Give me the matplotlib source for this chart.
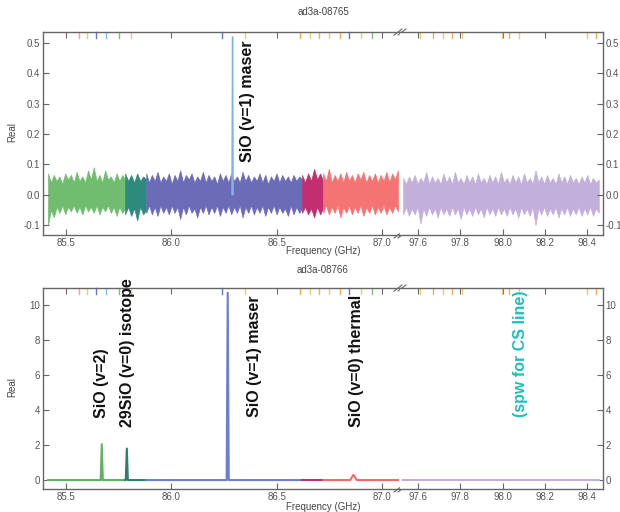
import numpy as np
import matplotlib
matplotlib.use("Agg")
import matplotlib.pyplot as plt

plt.rcParams["font.family"] = ["Liberation Sans", "DejaVu Sans"]

# ---- spectral windows (GHz) and colours ----------------------------------
seg_lo = [85.414, 85.78, 85.88, 86.62, 86.72, 97.53]
seg_hi = [85.78, 85.88, 86.62, 86.72, 87.075, 98.455]
seg_colors = ["#70bd70", "#2f8a7e", "#6b6bb8", "#c0306e", "#f47474", "#c3afdb"]

# ---- top panel (ad3a-08765): noise envelope read per window --------------
upper_green = [0.07, 0.04, 0.065, 0.045, 0.06, 0.035, 0.07, 0.05, 0.065, 0.04,
               0.075, 0.045, 0.06, 0.04, 0.08, 0.05, 0.09, 0.045, 0.065, 0.04,
               0.08, 0.05, 0.06, 0.04, 0.07, 0.045, 0.065, 0.05]
lower_green = [-0.10, -0.05, -0.075, -0.04, -0.06, -0.035, -0.065, -0.04, -0.055, -0.035,
               -0.06, -0.04, -0.065, -0.035, -0.055, -0.04, -0.06, -0.035, -0.065, -0.04,
               -0.055, -0.035, -0.06, -0.04, -0.07, -0.04, -0.06, -0.045]
upper_teal = [0.07, 0.045, 0.065, 0.04, 0.07, 0.045, 0.06, 0.05]
lower_teal = [-0.065, -0.04, -0.07, -0.045, -0.085, -0.04, -0.065, -0.05]
upper_blue = [0.07, 0.04, 0.065, 0.045, 0.075, 0.04, 0.06, 0.045, 0.07, 0.035,
              0.065, 0.045, 0.08, 0.04, 0.065, 0.05, 0.07, 0.04, 0.06, 0.045,
              0.075, 0.04, 0.065, 0.045, 0.06, 0.035, 0.07, 0.045, 0.065, 0.04,
              0.07, 0.045, 0.06, 0.04, 0.075, 0.045, 0.065, 0.04, 0.06, 0.045,
              0.07, 0.04, 0.065, 0.035, 0.06, 0.045, 0.07, 0.04, 0.065, 0.045,
              0.06, 0.04, 0.065, 0.045, 0.06, 0.05]
lower_blue = [-0.06, -0.035, -0.065, -0.04, -0.07, -0.035, -0.06, -0.04, -0.065, -0.035,
              -0.06, -0.04, -0.08, -0.04, -0.065, -0.035, -0.06, -0.045, -0.075, -0.04,
              -0.06, -0.035, -0.065, -0.04, -0.06, -0.035, -0.07, -0.04, -0.06, -0.035,
              -0.065, -0.04, -0.06, -0.035, -0.075, -0.04, -0.06, -0.035, -0.065, -0.04,
              -0.06, -0.035, -0.07, -0.04, -0.06, -0.035, -0.065, -0.04, -0.06, -0.045,
              -0.07, -0.035, -0.065, -0.04, -0.06, -0.045]
upper_crimson = [0.065, 0.04, 0.07, 0.045, 0.085, 0.05, 0.07, 0.045]
lower_crimson = [-0.06, -0.04, -0.065, -0.045, -0.075, -0.04, -0.065, -0.045]
upper_salmon = [0.07, 0.045, 0.085, 0.04, 0.065, 0.045, 0.07, 0.04, 0.075, 0.045,
                0.065, 0.04, 0.07, 0.05, 0.075, 0.04, 0.065, 0.045, 0.07, 0.04,
                0.065, 0.045, 0.075, 0.04, 0.07, 0.05, 0.08]
lower_salmon = [-0.06, -0.035, -0.065, -0.04, -0.06, -0.035, -0.075, -0.04, -0.06, -0.035,
                -0.065, -0.04, -0.06, -0.035, -0.07, -0.04, -0.06, -0.035, -0.065, -0.04,
                -0.06, -0.035, -0.065, -0.04, -0.06, -0.035, -0.055]
upper_lav = [0.055, 0.035, 0.06, 0.04, 0.065, 0.035, 0.055, 0.04, 0.075, 0.035,
             0.06, 0.04, 0.055, 0.035, 0.07, 0.04, 0.06, 0.035, 0.075, 0.04,
             0.055, 0.035, 0.065, 0.04, 0.06, 0.035, 0.07, 0.04, 0.055, 0.035,
             0.065, 0.04, 0.06, 0.035, 0.075, 0.04, 0.055, 0.035, 0.065, 0.04,
             0.06, 0.035, 0.07, 0.04, 0.055, 0.035, 0.08, 0.04, 0.06, 0.035,
             0.065, 0.04, 0.055, 0.035, 0.07, 0.04, 0.06, 0.035, 0.065, 0.04,
             0.055, 0.035, 0.06, 0.04, 0.065, 0.035, 0.055, 0.04, 0.05]
lower_lav = [-0.065, -0.04, -0.07, -0.045, -0.065, -0.04, -0.095, -0.045, -0.07, -0.04,
             -0.065, -0.045, -0.075, -0.04, -0.065, -0.045, -0.07, -0.04, -0.065, -0.045,
             -0.08, -0.04, -0.065, -0.045, -0.07, -0.04, -0.065, -0.045, -0.075, -0.04,
             -0.065, -0.045, -0.07, -0.04, -0.065, -0.045, -0.07, -0.04, -0.065, -0.045,
             -0.075, -0.04, -0.065, -0.045, -0.07, -0.04, -0.1, -0.045, -0.065, -0.04,
             -0.07, -0.045, -0.065, -0.04, -0.075, -0.045, -0.065, -0.04, -0.07, -0.045,
             -0.065, -0.04, -0.07, -0.045, -0.065, -0.04, -0.07, -0.045, -0.06]
top_upper = [upper_green, upper_teal, upper_blue, upper_crimson, upper_salmon, upper_lav]
top_lower = [lower_green, lower_teal, lower_blue, lower_crimson, lower_salmon, lower_lav]

maser_top_f = [86.287, 86.29, 86.293]
maser_top_v = [0.0, 0.52, 0.0]

# ---- bottom panel (ad3a-08766): spectrum per window ----------------------
bot_green_f = [85.414, 85.664, 85.669, 85.674, 85.78]
bot_green_v = [0, 0, 2.05, 0, 0]
bot_teal_f = [85.78, 85.783, 85.788, 85.793, 85.88]
bot_teal_v = [0, 0, 1.8, 0, 0]
bot_blue_f = [85.88, 86.262, 86.267, 86.272, 86.62]
bot_blue_v = [0, 0, 10.7, 0, 0]
bot_crimson_f = [86.62, 86.72]
bot_crimson_v = [0, 0]
bot_salmon_f = [86.72, 86.848, 86.864, 86.88, 87.075]
bot_salmon_v = [0, 0, 0.3, 0, 0]
bot_lav_f = [97.53, 98.455]
bot_lav_v = [0, 0]
bot_f = [bot_green_f, bot_teal_f, bot_blue_f, bot_crimson_f, bot_salmon_f, bot_lav_f]
bot_v = [bot_green_v, bot_teal_v, bot_blue_v, bot_crimson_v, bot_salmon_v, bot_lav_v]
bot_colors = ["#5fb25f", "#2f7f6a", "#6f7fd0", "#c0306e", "#f06a6a", "#c3afdb"]

# small coloured line markers along the top edge
mark_f = [85.56, 85.60, 85.64, 85.69, 85.75, 85.81, 86.24, 86.35, 86.61, 86.66,
          86.70, 86.75, 86.80, 86.845, 86.90, 86.95,
          97.61, 97.67, 97.72, 97.76, 97.81, 97.995, 98.03, 98.08, 98.40, 98.44]
mark_c = ["#f0b050", "#e8d070", "#7070c0", "#80c0e0", "#80c080", "#e8d070", "#7070c0",
          "#e8d070", "#f0b050", "#e8d070", "#f0b050", "#e8d070", "#f0b050", "#7070c0",
          "#e8d070", "#80c080",
          "#e8d070", "#f0b050", "#e8d070", "#f0b050", "#e8d070", "#e8d070", "#f0b050",
          "#e8d070", "#e8d070", "#f0b050"]

left_xlim = (85.39, 87.085)
right_xlim = (97.515, 98.475)
left_ticks = [85.5, 86.0, 86.5, 87.0]
right_ticks = [97.6, 97.8, 98.0, 98.2, 98.4]

W, H = 620, 512
fig = plt.figure(figsize=(W / 100, H / 100), dpi=100)
SPINE = "#666666"
TICKC = "#555555"
LABEL_FS = 11.5


def make_pair(top_px, bot_px):
    x0, xb, x1 = 43, 400, 603
    b = 1 - bot_px / H
    h = (bot_px - top_px) / H
    axl = fig.add_axes([x0 / W, b, (xb - x0) / W, h])
    axr = fig.add_axes([xb / W, b, (x1 - xb) / W, h])
    axl.set_xlim(*left_xlim)
    axr.set_xlim(*right_xlim)
    axl.set_xticks(left_ticks)
    axr.set_xticks(right_ticks)
    for ax in (axl, axr):
        ax.xaxis.set_major_formatter(matplotlib.ticker.FormatStrFormatter("%.1f"))
        for s in ax.spines.values():
            s.set_color(SPINE)
            s.set_linewidth(1.0)
        ax.tick_params(direction="in", length=4, width=0.8, color=SPINE,
                       labelsize=7, labelcolor=TICKC, top=True, pad=2)
    axl.spines["right"].set_visible(False)
    axr.spines["left"].set_visible(False)
    axl.tick_params(axis="y", left=True, right=False)
    axr.tick_params(axis="y", left=False, labelleft=False, right=True, labelright=True)
    # break marks "//"
    kw = dict(transform=axl.transAxes, color=SPINE, lw=0.8, clip_on=False, zorder=10)
    w = xb - x0
    hp = bot_px - top_px
    for yy in (0, 1):
        for off in (-2, 2):
            axl.plot([1 + (off - 4) / w, 1 + (off + 4) / w],
                     [yy - 3 / hp, yy + 3 / hp], **kw)
    for f, c in zip(mark_f, mark_c):
        ax = axl if f < 90 else axr
        ax.plot([f, f], [0.972, 1.0], color=c, lw=1.0,
                transform=ax.get_xaxis_transform(), clip_on=False)
    return axl, axr


# ---- top panel ------------------------------------------------------------
tl, tr = make_pair(32, 235)
for lo, hi, up, dn, c in zip(seg_lo, seg_hi, top_upper, top_lower, seg_colors):
    ax = tl if lo < 90 else tr
    f = np.linspace(lo, hi, len(up))
    ax.fill_between(f, dn, up, color=c, lw=0.5, edgecolor=c)
tl.plot(maser_top_f, maser_top_v, color="#7fb2e5", lw=1.0)
for ax in (tl, tr):
    ax.set_ylim(-0.133, 0.536)
    ax.set_yticks([-0.1, 0.0, 0.1, 0.2, 0.3, 0.4, 0.5])
    ax.yaxis.set_major_formatter(matplotlib.ticker.FormatStrFormatter("%.1f"))
tl.text(86.36, 0.108, "SiO (v=1) maser", rotation=90, ha="center", va="bottom",
        fontsize=LABEL_FS, fontweight="bold", color="#111111")

# ---- bottom panel ---------------------------------------------------------
bl, br = make_pair(288, 489)
for lo, f, v, c in zip(seg_lo, bot_f, bot_v, bot_colors):
    ax = bl if lo < 90 else br
    ax.plot(f, v, color=c, lw=1.5)
for ax in (bl, br):
    ax.set_ylim(-0.51, 10.97)
    ax.set_yticks([0, 2, 4, 6, 8, 10])
bl.text(85.67, 3.55, "SiO (v=2)", rotation=90, ha="center", va="bottom",
        fontsize=LABEL_FS, fontweight="bold", color="#111111")
bl.text(85.79, 3.05, "29SiO (v=0) isotope", rotation=90, ha="center", va="bottom",
        fontsize=LABEL_FS, fontweight="bold", color="#111111", clip_on=False)
bl.text(86.395, 3.6, "SiO (v=1) maser", rotation=90, ha="center", va="bottom",
        fontsize=LABEL_FS, fontweight="bold", color="#111111")
bl.text(86.878, 3.05, "SiO (v=0) thermal", rotation=90, ha="center", va="bottom",
        fontsize=LABEL_FS, fontweight="bold", color="#111111")
br.text(98.084, 3.6, "(spw for CS line)", rotation=90, ha="center", va="bottom",
        fontsize=LABEL_FS, fontweight="bold", color="#1bbfbf")

# ---- titles and axis labels ----------------------------------------------
cx = 323 / W
fig.text(cx, 1 - 12 / H, "ad3a-08765", ha="center", va="center", fontsize=7, color="#444444")
fig.text(cx, 1 - 270 / H, "ad3a-08766", ha="center", va="center", fontsize=7, color="#444444")
fig.text(cx, 1 - 251 / H, "Frequency (GHz)", ha="center", va="center", fontsize=7, color="#444444")
fig.text(cx, 1 - 507 / H, "Frequency (GHz)", ha="center", va="center", fontsize=7, color="#444444")
fig.text(12 / W, 1 - 132 / H, "Real", rotation=90, ha="center", va="center", fontsize=7, color="#444444")
fig.text(12 / W, 1 - 387 / H, "Real", rotation=90, ha="center", va="center", fontsize=7, color="#444444")

fig.savefig("out.png", dpi=100, facecolor="white")
